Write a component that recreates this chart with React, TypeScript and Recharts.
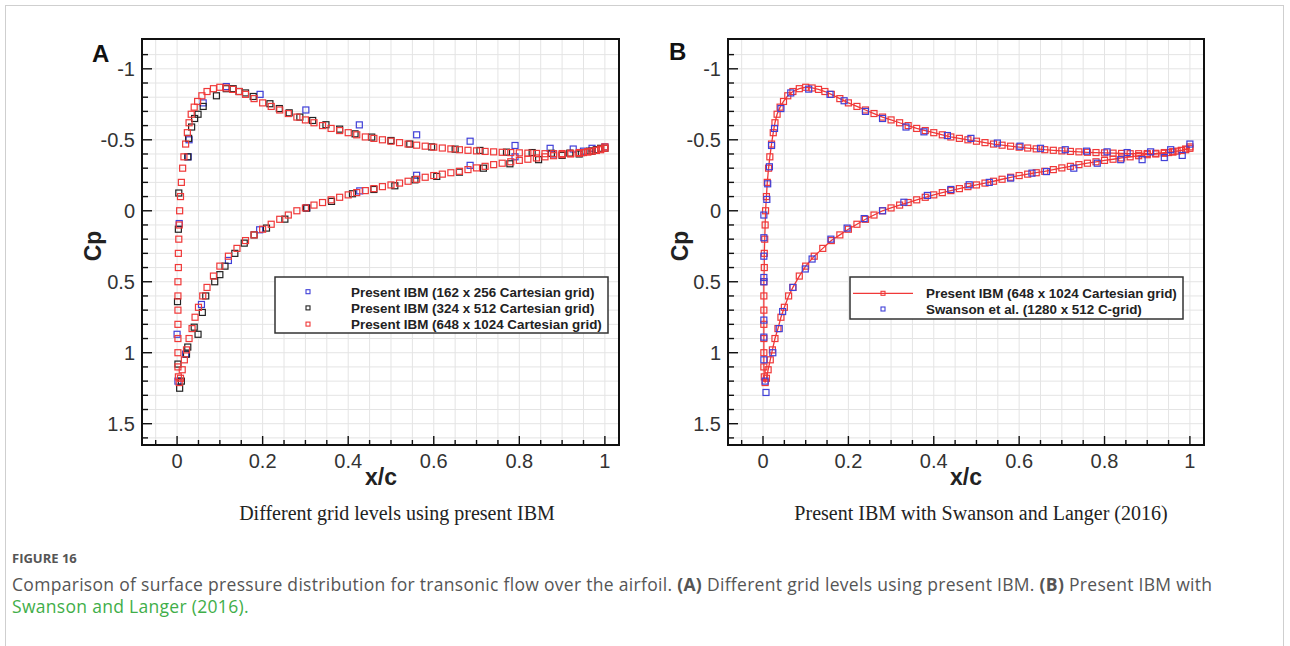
import React from 'react';
import { ScatterChart, Scatter, XAxis, YAxis, CartesianGrid, ReferenceArea } from 'recharts';

type P = [number, number];

// Present IBM 648 x 1024 (fine) – lower surface, trailing edge -> leading edge
const FINE_LOWER: P[] = [
  [1.0, -0.44], [0.99, -0.43], [0.98, -0.425], [0.97, -0.42], [0.96, -0.415], [0.95, -0.41],
  [0.94, -0.405], [0.92, -0.4], [0.9, -0.395], [0.88, -0.388], [0.86, -0.38], [0.84, -0.372],
  [0.82, -0.363], [0.8, -0.355], [0.78, -0.345], [0.76, -0.335], [0.74, -0.325], [0.72, -0.313],
  [0.7, -0.302], [0.68, -0.29], [0.66, -0.278], [0.64, -0.268], [0.62, -0.258], [0.6, -0.248],
  [0.58, -0.236], [0.56, -0.222], [0.54, -0.208], [0.52, -0.195], [0.5, -0.182], [0.48, -0.17],
  [0.46, -0.156], [0.44, -0.142], [0.42, -0.128], [0.4, -0.112], [0.38, -0.095], [0.36, -0.077],
  [0.34, -0.058], [0.32, -0.04], [0.3, -0.02], [0.28, 0.0], [0.26, 0.03], [0.24, 0.06],
  [0.22, 0.095], [0.2, 0.13], [0.18, 0.17], [0.16, 0.21], [0.14, 0.265], [0.12, 0.32],
  [0.1, 0.39], [0.085, 0.46], [0.07, 0.54], [0.06, 0.6], [0.05, 0.68], [0.042, 0.75],
  [0.035, 0.83], [0.028, 0.9], [0.022, 0.98], [0.017, 1.05], [0.012, 1.12], [0.008, 1.18],
  [0.005, 1.21],
];
// fine – upper surface, leading edge -> trailing edge
const FINE_UPPER: P[] = [
  [0.003, 1.17], [0.002, 1.1], [0.002, 1.0], [0.002, 0.9], [0.002, 0.8], [0.002, 0.7],
  [0.002, 0.6], [0.002, 0.5], [0.003, 0.4], [0.003, 0.3], [0.004, 0.2], [0.005, 0.1],
  [0.006, 0.0], [0.008, -0.1], [0.01, -0.2], [0.013, -0.3], [0.016, -0.38], [0.02, -0.47],
  [0.024, -0.55], [0.028, -0.62], [0.033, -0.68], [0.04, -0.73], [0.048, -0.77], [0.058, -0.81],
  [0.07, -0.84], [0.085, -0.86], [0.1, -0.87], [0.115, -0.865], [0.13, -0.855], [0.145, -0.84],
  [0.16, -0.82], [0.18, -0.79], [0.2, -0.76], [0.22, -0.735], [0.24, -0.71], [0.26, -0.685],
  [0.28, -0.66], [0.3, -0.64], [0.32, -0.62], [0.34, -0.6], [0.36, -0.58], [0.38, -0.565],
  [0.4, -0.55], [0.42, -0.535], [0.44, -0.52], [0.46, -0.51], [0.48, -0.5], [0.5, -0.49],
  [0.52, -0.48], [0.54, -0.47], [0.56, -0.462], [0.58, -0.455], [0.6, -0.448], [0.62, -0.442],
  [0.64, -0.436], [0.66, -0.43], [0.68, -0.426], [0.7, -0.422], [0.72, -0.418], [0.74, -0.415],
  [0.76, -0.412], [0.78, -0.41], [0.8, -0.408], [0.82, -0.406], [0.84, -0.404], [0.86, -0.402],
  [0.88, -0.402], [0.9, -0.403], [0.92, -0.405], [0.94, -0.41], [0.96, -0.415], [0.98, -0.425],
  [0.99, -0.435], [1.0, -0.45],
];

// Present IBM 324 x 512 (medium)
const MED_UPPER: P[] = [
  [0.006, 1.25], [0.002, 1.08], [0.001, 0.64], [0.003, 0.13], [0.004, -0.125], [0.025, -0.38],
  [0.027, -0.51], [0.034, -0.59], [0.041, -0.65], [0.049, -0.68], [0.061, -0.735], [0.092, -0.81],
  [0.115, -0.86], [0.131, -0.86], [0.145, -0.84], [0.16, -0.83], [0.178, -0.805], [0.217, -0.754],
  [0.239, -0.72], [0.262, -0.69], [0.287, -0.66], [0.317, -0.636], [0.348, -0.606], [0.38, -0.575],
  [0.416, -0.542], [0.455, -0.519], [0.5, -0.495], [0.544, -0.47], [0.595, -0.45], [0.65, -0.434],
  [0.708, -0.425], [0.77, -0.413], [0.83, -0.41], [0.875, -0.405], [0.918, -0.406], [0.945, -0.41],
  [0.965, -0.42], [0.98, -0.43], [0.99, -0.44], [1.0, -0.44],
];
const MED_LOWER: P[] = [
  [0.01, 1.2], [0.022, 1.01], [0.025, 0.96], [0.04, 0.82], [0.049, 0.87], [0.059, 0.716],
  [0.067, 0.6], [0.088, 0.5], [0.1, 0.45], [0.112, 0.39], [0.135, 0.3], [0.157, 0.228],
  [0.18, 0.17], [0.209, 0.122], [0.252, 0.059], [0.303, -0.019], [0.361, -0.066], [0.41, -0.12],
  [0.46, -0.15], [0.509, -0.176], [0.556, -0.218], [0.607, -0.242], [0.66, -0.272], [0.716, -0.3],
  [0.778, -0.331], [0.845, -0.36], [0.9, -0.39], [0.94, -0.4], [0.97, -0.42],
];

// Present IBM 162 x 256 (coarse)
const COARSE_UPPER: P[] = [
  [0.002, 1.2], [0.02, 1.01], [0.0, 0.87], [0.005, 0.09], [0.026, -0.38], [0.028, -0.5],
  [0.061, -0.76], [0.115, -0.875], [0.194, -0.82], [0.301, -0.71], [0.426, -0.605], [0.56, -0.535],
  [0.685, -0.49], [0.79, -0.46], [0.872, -0.44], [0.926, -0.435], [0.97, -0.44], [1.0, -0.45],
];
const COARSE_LOWER: P[] = [
  [0.057, 0.66], [0.12, 0.35], [0.193, 0.134], [0.303, -0.02], [0.427, -0.14], [0.56, -0.25],
  [0.685, -0.32], [0.79, -0.38], [0.88, -0.4], [0.95, -0.42],
];

// Swanson et al. (1280 x 512 C-grid)
const SWANSON_UPPER: P[] = [
  [0.002, 1.05], [0.002, 0.89], [0.002, 0.77], [0.002, 0.5], [0.002, 0.47], [0.002, 0.32],
  [0.002, 0.19], [0.002, 0.03], [0.009, -0.08], [0.011, -0.19], [0.015, -0.31], [0.02, -0.46],
  [0.027, -0.58], [0.042, -0.72], [0.065, -0.83], [0.107, -0.857], [0.157, -0.82], [0.19, -0.775],
  [0.24, -0.7], [0.28, -0.65], [0.335, -0.59], [0.377, -0.556], [0.432, -0.53], [0.487, -0.51],
  [0.549, -0.477], [0.602, -0.455], [0.65, -0.44], [0.708, -0.43], [0.758, -0.42], [0.806, -0.415],
  [0.853, -0.41], [0.908, -0.415], [0.955, -0.43], [1.0, -0.47],
];
const SWANSON_LOWER: P[] = [
  [0.007, 1.28], [0.005, 1.2], [0.023, 1.0], [0.038, 0.83], [0.046, 0.71], [0.07, 0.54],
  [0.099, 0.41], [0.115, 0.34], [0.159, 0.2], [0.197, 0.122], [0.237, 0.055], [0.28, 0.0],
  [0.33, -0.06], [0.385, -0.108], [0.44, -0.15], [0.483, -0.183], [0.53, -0.2], [0.58, -0.23],
  [0.63, -0.265], [0.664, -0.276], [0.728, -0.3], [0.783, -0.335], [0.838, -0.36], [0.888, -0.36],
  [0.94, -0.375], [0.982, -0.39],
];

const X_TICKS = [-0.05, 0, 0.05, 0.1, 0.15, 0.2, 0.25, 0.3, 0.35, 0.4, 0.45, 0.5, 0.55, 0.6, 0.65, 0.7, 0.75, 0.8, 0.85, 0.9, 0.95, 1];
const X_MAJOR = [0, 0.2, 0.4, 0.6, 0.8, 1];
const X_LABELS = ['0', '0.2', '0.4', '0.6', '0.8', '1'];
const Y_TICKS = [-1.1, -1, -0.9, -0.8, -0.7, -0.6, -0.5, -0.4, -0.3, -0.2, -0.1, 0, 0.1, 0.2, 0.3, 0.4, 0.5, 0.6, 0.7, 0.8, 0.9, 1, 1.1, 1.2, 1.3, 1.4, 1.5, 1.6];
const Y_MAJOR = [-1, -0.5, 0, 0.5, 1, 1.5];
const Y_LABELS = ['-1', '-0.5', '0', '0.5', '1', '1.5'];
const X_DOMAIN: [number, number] = [-0.082, 1.033];
const Y_DOMAIN: [number, number] = [-1.21, 1.65];

const LEGEND_A = [
  'Present IBM (162 x 256 Cartesian grid)',
  'Present IBM (324 x 512 Cartesian grid)',
  'Present IBM (648 x 1024 Cartesian grid)',
];
const LEGEND_B = ['Present IBM (648 x 1024 Cartesian grid)', 'Swanson et al. (1280 x 512 C-grid)'];

const RED = '#f03838';
const BLUE = '#4040d8';
const BLACK = '#222222';
const TICK_FONT = 'Liberation Sans, Arial, sans-serif';

const toPts = (a: P[]) => a.map(([x, cp]) => ({ x, cp }));
const FINE_PATH = toPts([...FINE_LOWER, ...FINE_UPPER]);
const MED_PTS = toPts([...MED_UPPER, ...MED_LOWER]);
const COARSE_PTS = toPts([...COARSE_UPPER, ...COARSE_LOWER]);
const SWANSON_PTS = toPts([...SWANSON_UPPER, ...SWANSON_LOWER]);

const square = (color: string, s = 6) => (props: any) => {
  const { cx, cy } = props;
  if (cx == null || cy == null) return <g />;
  return <rect x={cx - s / 2} y={cy - s / 2} width={s} height={s} fill="none" stroke={color} strokeWidth={1.2} />;
};

const idx = (arr: number[], v: number) => arr.findIndex((m) => Math.abs(m - v) < 1e-6);

const XTick = (props: any) => {
  const { x, y, payload } = props;
  const i = idx(X_MAJOR, payload.value);
  return (
    <g>
      <line x1={x} x2={x} y1={y} y2={y - (i >= 0 ? 9 : 5)} stroke="#111" strokeWidth={1.4} />
      {i >= 0 && (
        <text x={x} y={y + 23} textAnchor="middle" fontSize={20} fill="#333" fontFamily={TICK_FONT}>
          {X_LABELS[i]}
        </text>
      )}
    </g>
  );
};

const YTick = (props: any) => {
  const { x, y, payload } = props;
  const i = idx(Y_MAJOR, payload.value);
  return (
    <g>
      <line x1={x} x2={x + (i >= 0 ? 10 : 6)} y1={y} y2={y} stroke="#111" strokeWidth={1.4} />
      {i >= 0 && (
        <text x={x - 7} y={y + 7} textAnchor="end" fontSize={20} fill="#333" fontFamily={TICK_FONT}>
          {Y_LABELS[i]}
        </text>
      )}
    </g>
  );
};

const frameAxes = () => [
  <CartesianGrid key="g" stroke="#e4e4e4" strokeWidth={1} />,
  <XAxis key="x" dataKey="x" type="number" domain={X_DOMAIN} ticks={X_TICKS} interval={0}
    allowDataOverflow tick={<XTick />} tickLine={false} tickSize={0} tickMargin={0} height={30}
    axisLine={{ stroke: '#111', strokeWidth: 2 }} />,
  <YAxis key="y" dataKey="cp" type="number" domain={Y_DOMAIN} ticks={Y_TICKS} interval={0}
    reversed allowDataOverflow tick={<YTick />} tickLine={false} tickSize={0} tickMargin={0} width={40}
    axisLine={{ stroke: '#111', strokeWidth: 2 }} />,
  <ReferenceArea key="frame" x1={X_DOMAIN[0]} x2={X_DOMAIN[1]} y1={Y_DOMAIN[0]} y2={Y_DOMAIN[1]}
    fill="none" fillOpacity={0} stroke="#111" strokeWidth={2} strokeOpacity={1} ifOverflow="visible" />,
];

export default function App() {
  return (
    <div style={{ position: 'absolute', left: 0, top: 0, width: 1290, height: 646, background: '#fff', overflow: 'hidden' }}>
      <div style={{ position: 'absolute', left: 0, top: 0 }}>
        <ScatterChart width={660} height={500} margin={{ top: 39, left: 102, right: 41, bottom: 25 }}>
          {frameAxes()}
          <Scatter data={COARSE_PTS} dataKey="cp" shape={square(BLUE)} isAnimationActive={false} />
          <Scatter data={MED_PTS} dataKey="cp" shape={square(BLACK)} isAnimationActive={false} />
          <Scatter data={FINE_PATH} dataKey="cp" shape={square(RED)} isAnimationActive={false} />
        </ScatterChart>
      </div>
      <div style={{ position: 'absolute', left: 600, top: 0 }}>
        <ScatterChart width={660} height={500} margin={{ top: 39, left: 88, right: 56, bottom: 25 }}>
          {frameAxes()}
          <Scatter data={FINE_PATH} dataKey="cp" shape={square(RED)} line={{ stroke: RED, strokeWidth: 1.3 }}
            lineType="joint" isAnimationActive={false} />
          <Scatter data={SWANSON_PTS} dataKey="cp" shape={square(BLUE)} isAnimationActive={false} />
        </ScatterChart>
      </div>
      <svg width={1290} height={646} style={{ position: 'absolute', left: 0, top: 0, pointerEvents: 'none' }}>
        <rect x={5.5} y={5.5} width={1278} height={700} fill="none" stroke="#cfcfcf" strokeWidth={1} />
        {/* panel letters */}
        <text x={92} y={62} fontSize={24} fontWeight="bold" fontFamily={TICK_FONT} fill="#111">A</text>
        <text x={669} y={60} fontSize={24} fontWeight="bold" fontFamily={TICK_FONT} fill="#111">B</text>
        {/* axis titles */}
        <text x={93} y={246} transform="rotate(-90 93 246)" textAnchor="middle" dominantBaseline="central"
          fontSize={23} fontWeight="bold" fontFamily={TICK_FONT} fill="#222">Cp</text>
        <text x={680} y={246} transform="rotate(-90 680 246)" textAnchor="middle" dominantBaseline="central"
          fontSize={23} fontWeight="bold" fontFamily={TICK_FONT} fill="#222">Cp</text>
        <text x={381} y={485} textAnchor="middle" fontSize={23} fontWeight="bold" fontFamily={TICK_FONT} fill="#222">x/c</text>
        <text x={966} y={485} textAnchor="middle" fontSize={23} fontWeight="bold" fontFamily={TICK_FONT} fill="#222">x/c</text>
        {/* subtitles */}
        <text x={397} y={520} textAnchor="middle" fontSize={20} fontFamily="Liberation Serif, Times New Roman, serif" fill="#222">
          Different grid levels using present IBM
        </text>
        <text x={981} y={520} textAnchor="middle" fontSize={20} fontFamily="Liberation Serif, Times New Roman, serif" fill="#222">
          Present IBM with Swanson and Langer (2016)
        </text>
        {/* legend A */}
        <rect x={275} y={277} width={333} height={56} fill="#fff" stroke="#333" strokeWidth={1.5} />
        {LEGEND_A.map((t, i) => {
          const cy = 291.7 + i * 16.2;
          const c = [BLUE, BLACK, RED][i];
          return (
            <g key={t}>
              <rect x={306} y={cy - 2} width={4} height={4} fill="none" stroke={c} strokeWidth={1.1} />
              <text x={351} y={cy + 4.8} fontSize={13.4} fontWeight="bold" fontFamily={TICK_FONT} fill="#222">{t}</text>
            </g>
          );
        })}
        {/* legend B */}
        <rect x={850} y={277} width={333} height={42} fill="#fff" stroke="#333" strokeWidth={1.5} />
        <line x1={853} x2={913} y1={293.3} y2={293.3} stroke={RED} strokeWidth={1.3} />
        <rect x={881} y={291.3} width={4} height={4} fill="none" stroke={RED} strokeWidth={1.1} />
        <text x={926} y={298.1} fontSize={13.4} fontWeight="bold" fontFamily={TICK_FONT} fill="#222">{LEGEND_B[0]}</text>
        <rect x={881} y={307} width={4} height={4} fill="none" stroke={BLUE} strokeWidth={1.1} />
        <text x={926} y={313.8} fontSize={13.4} fontWeight="bold" fontFamily={TICK_FONT} fill="#222">{LEGEND_B[1]}</text>
        {/* caption */}
        <text x={12} y={563} fontSize={13} fontWeight="bold" fontFamily="Open Sans, sans-serif" fill="#555">FIGURE 16</text>
        <text x={12} y={591} fontSize={17.5} letterSpacing={0.3} fontFamily="Open Sans, sans-serif" fill="#555">
          Comparison of surface pressure distribution for transonic flow over the airfoil.{' '}
          <tspan fontWeight="bold">(A)</tspan> Different grid levels using present IBM.{' '}
          <tspan fontWeight="bold">(B)</tspan> Present IBM with
        </text>
        <text x={12} y={613} fontSize={17.5} letterSpacing={0.3} fontFamily="Open Sans, sans-serif" fill="#3fae49">Swanson and Langer (2016).</text>
      </svg>
    </div>
  );
}
